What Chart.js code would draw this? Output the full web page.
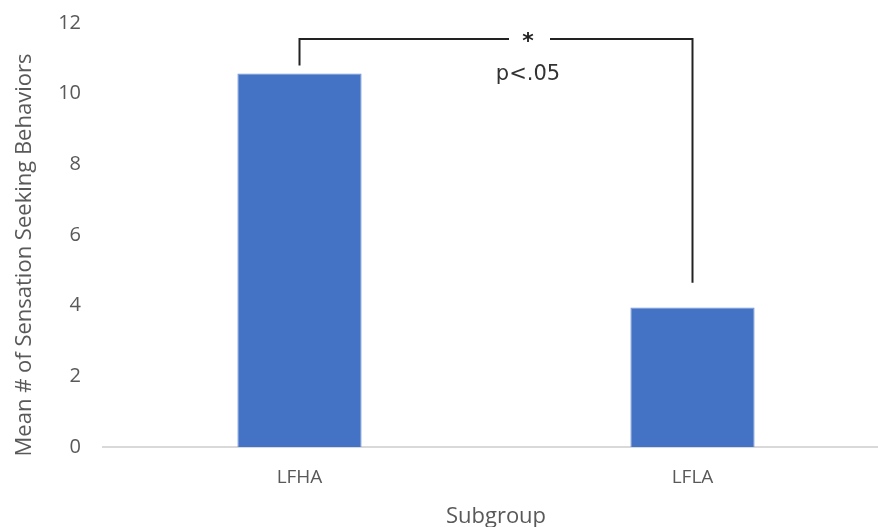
<!DOCTYPE html>
<html>
<head>
<meta charset="utf-8">
<script src="https://cdn.jsdelivr.net/npm/chart.js@4/dist/chart.umd.min.js"></script>
<style>
    html, body { margin: 0; padding: 0; background: #fff; overflow: hidden; height: 527px; }
    #wrap { width: 900px; height: 541px; margin-top: -11px; }
</style>
</head>
<body>
<div id="wrap"><canvas id="grafico"></canvas></div>
<script>
// dados
const subgrupos = ['LFHA', 'LFLA'];
const medias = [10.57, 3.95];
const ticksY = [0, 2, 4, 6, 8, 10, 12];

// colchete de significância (em unidades do eixo y)
const colcheteTopo = 11.55;
const colcheteBase = [10.8, 4.65];
const rotuloSig = '*';
const rotuloP = 'p<.05';

const tituloY = 'Mean # of Sensation Seeking Behaviors';
const corTexto = '#595959';

// desenha o colchete, os textos de significância e o título do eixo y
const pluginColchete = {
    id: 'colchete',
    afterDatasetsDraw(chart) {
        const { ctx, chartArea, scales: { x, y } } = chart;
        const xa = x.getPixelForValue(0);
        const xb = x.getPixelForValue(1);
        const yt = y.getPixelForValue(colcheteTopo);
        const ya = y.getPixelForValue(colcheteBase[0]);
        const yb = y.getPixelForValue(colcheteBase[1]);
        const meio = (xa + xb) / 2 + 32;
        ctx.save();
        ctx.strokeStyle = '#222';
        ctx.lineWidth = 2;
        ctx.beginPath();
        ctx.moveTo(xa, ya);
        ctx.lineTo(xa, yt);
        ctx.lineTo(meio - 19, yt);
        ctx.moveTo(meio + 22, yt);
        ctx.lineTo(xb, yt);
        ctx.lineTo(xb, yb);
        ctx.stroke();
        ctx.fillStyle = '#222';
        ctx.textAlign = 'center';
        ctx.textBaseline = 'middle';
        ctx.font = 'bold 22px "DejaVu Sans"';
        ctx.fillText(rotuloSig, meio, yt + 3);
        ctx.fillStyle = '#333';
        ctx.font = '21px "DejaVu Sans"';
        ctx.fillText(rotuloP, meio, yt + 36);

        // título do eixo y (um pouco abaixo do centro, como no original)
        ctx.translate(25, (chartArea.top + chartArea.bottom) / 2 + 20);
        ctx.rotate(-Math.PI / 2);
        ctx.fillStyle = corTexto;
        ctx.font = '22px "Open Sans"';
        ctx.fillText(tituloY, 0, 0);
        ctx.restore();
    }
};

new Chart(document.getElementById('grafico'), {
    type: 'bar',
    data: {
        labels: subgrupos,
        datasets: [{
            data: medias,
            backgroundColor: '#4472C4',
            borderColor: '#6f93d3',
            borderWidth: 1,
            categoryPercentage: 0.316,
            barPercentage: 1
        }]
    },
    options: {
        responsive: true,
        maintainAspectRatio: false,
        animation: false,
        layout: { padding: { top: 1, right: 11, left: 0, bottom: 0 } },
        plugins: {
            legend: { display: false },
            tooltip: { enabled: false }
        },
        scales: {
            x: {
                afterFit(axis) { axis.height = 83; },
                grid: { display: false, drawTicks: false },
                border: { color: '#d9d9d9', width: 2 },
                ticks: {
                    color: corTexto,
                    font: { family: 'Open Sans', size: 19 },
                    padding: 19
                },
                title: {
                    display: true,
                    text: 'Subgroup',
                    color: corTexto,
                    font: { family: 'Open Sans', size: 22 },
                    padding: { top: 0, bottom: 0 }
                }
            },
            y: {
                min: 0,
                max: 12,
                afterBuildTicks(axis) { axis.ticks = ticksY.map(v => ({ value: v })); },
                afterFit(axis) { axis.width = 103; },
                grid: { display: false, drawTicks: false },
                border: { display: false },
                ticks: {
                    color: corTexto,
                    font: { family: 'Open Sans', size: 20 },
                    padding: 22
                }
            }
        }
    },
    plugins: [pluginColchete]
});
</script>
</body>
</html>
